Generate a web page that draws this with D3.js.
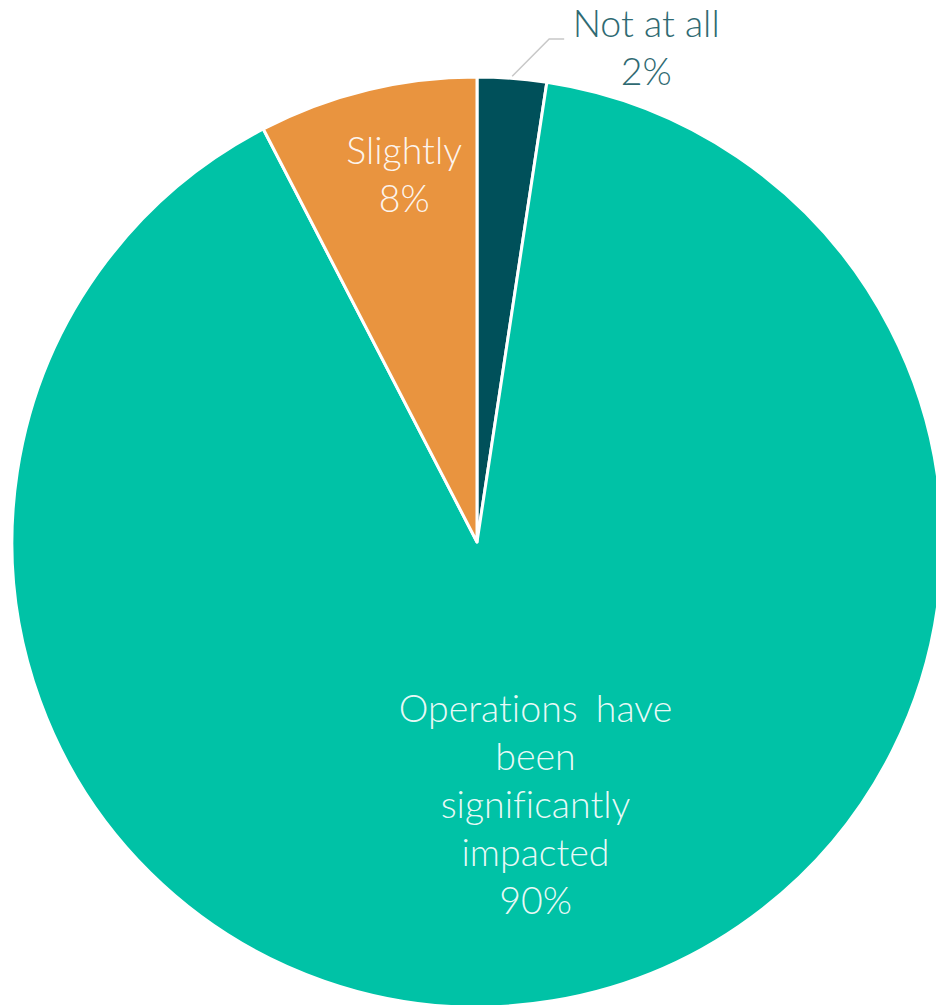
<!DOCTYPE html>
<html>
<head>
<meta charset="utf-8">
<script src="https://cdn.jsdelivr.net/npm/d3@7"></script>
<style>
  html, body { margin: 0; padding: 0; background: #ffffff; }
  svg { display: block; }
  text { font-family: Lato, "Open Sans", sans-serif; font-weight: 300; font-variant-ligatures: none; }
</style>
</head>
<body>
<div id="chart"></div>
<script>
// Survey answers: how much operations have been affected
const categories = ["Not at all", "Operations have been significantly impacted", "Slightly"];
const labelLines = [["Not at all"], ["Operations have", "been", "significantly", "impacted"], ["Slightly"]];
const shares = [2.4, 90.0, 7.6];
const colors = ["#00505A", "#00C2A6", "#E9943F"];

const width = 936, height = 1005;
const cx = 477, cy = 542, radius = 465;

const svg = d3.select("#chart").append("svg")
  .attr("width", width).attr("height", height);

const g = svg.append("g").attr("transform", `translate(${cx},${cy})`);

const data = categories.map((c, i) => ({ name: c, value: shares[i], lines: labelLines[i], color: colors[i] }));

const pie = d3.pie().sort(null).value(d => d.value).startAngle(0).endAngle(2 * Math.PI);
const arcs = pie(data);

const arc = d3.arc().innerRadius(0).outerRadius(radius);

g.selectAll("path.slice")
  .data(arcs)
  .join("path")
  .attr("class", "slice")
  .attr("d", arc)
  .attr("fill", d => d.data.color)
  .attr("stroke", "#ffffff")
  .attr("stroke-width", 3)
  .attr("stroke-linejoin", "round");

const fmt = v => Math.round(v) + "%";
const fontSize = 37.5, lineH = 48;

// labels inside the two large slices (radius along the bisector, then a small nudge)
const inside = [
  { idx: 1, r: 0.575 * radius, dx: 15, dy: -1 },
  { idx: 2, r: 0.79 * radius, dx: 14, dy: -10 }
];
inside.forEach(({ idx, r, dx, dy }) => {
  const a = arcs[idx];
  const lab = d3.arc().innerRadius(r).outerRadius(r);
  const [x, y] = lab.centroid(a);
  const lines = a.data.lines.concat([fmt(a.data.value)]);
  const t = g.append("text")
    .attr("text-anchor", "middle")
    .attr("fill", "#ffffff")
    .attr("fill-opacity", 0.92)
    .attr("font-size", fontSize)
    .attr("word-spacing", 8)
    .attr("transform", `translate(${x + dx},${y + dy})`);
  lines.forEach((s, k) => {
    t.append("tspan")
      .attr("x", 0)
      .attr("y", (k - (lines.length - 1) / 2) * lineH)
      .attr("dy", "0.35em")
      .text(s);
  });
});

// outside label with leader for the smallest slice
{
  const a = arcs[0];
  const mid = (a.startAngle + a.endAngle) / 2;
  const p0 = [Math.sin(mid) * (radius + 2), -Math.cos(mid) * (radius + 2)];
  const p1 = [p0[0] + 37, -cy + 39];
  const p2 = [p1[0] + 15, p1[1]];
  g.append("path")
    .attr("d", d3.line()([p0, p1, p2]))
    .attr("fill", "none")
    .attr("stroke", "#c8c8c8")
    .attr("stroke-width", 1.5);
  const tx = p2[0] + 82;
  const t = g.append("text")
    .attr("text-anchor", "middle")
    .attr("fill", "#2f6a72")
    .attr("font-size", fontSize)
    .attr("transform", `translate(${tx},${p1[1]})`);
  [a.data.lines[0], fmt(a.data.value)].forEach((s, k) => {
    t.append("tspan")
      .attr("x", 0)
      .attr("y", (k - 0.5) * lineH + 28)
      .attr("dy", "-0.15em")
      .text(s);
  });
}
</script>
</body>
</html>
